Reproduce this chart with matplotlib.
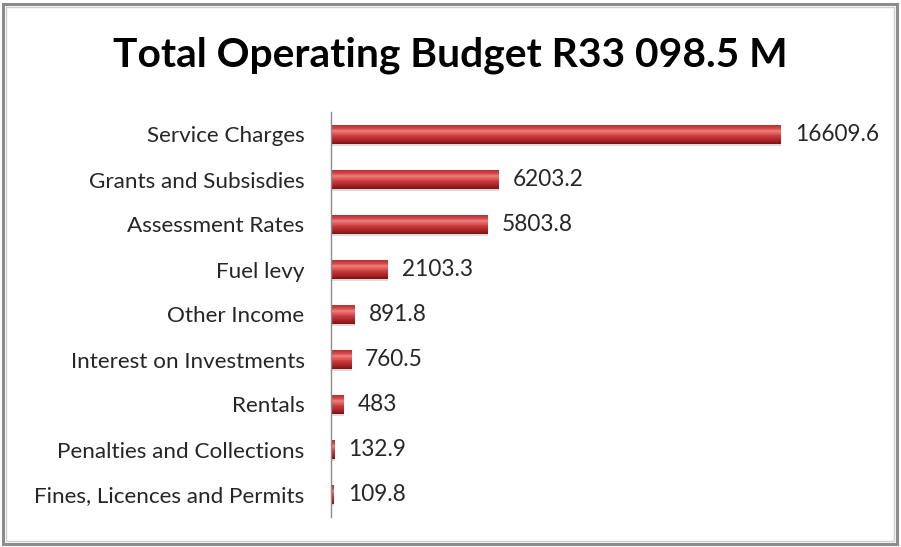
import matplotlib
matplotlib.use("Agg")
import matplotlib.pyplot as plt
import numpy as np
from matplotlib.patches import Rectangle
from matplotlib.colors import LinearSegmentedColormap

categories = ["Service Charges", "Grants and Subsisdies", "Assessment Rates", "Fuel levy",
              "Other Income", "Interest on Investments", "Rentals",
              "Penalties and Collections", "Fines, Licences and Permits"]
values = [16609.6, 6203.2, 5803.8, 2103.3, 891.8, 760.5, 483, 132.9, 109.8]
value_labels = ["16609.6", "6203.2", "5803.8", "2103.3", "891.8", "760.5", "483", "132.9", "109.8"]
title = "Total Operating Budget R33 098.5 M"

plt.rcParams['font.family'] = ['Lato', 'DejaVu Sans']

fig = plt.figure(figsize=(9.01, 5.47), dpi=100)
W, H = 901, 547
# frame
fig.patches.append(Rectangle((3/W, 3/H), 894/W, 540/H, transform=fig.transFigure,
                             fill=False, edgecolor="#8c8c8c", linewidth=2.2))
fig.patches.append(Rectangle((6/W, 6/H), 888/W, 534/H, transform=fig.transFigure,
                             fill=False, edgecolor="#d0d0d0", linewidth=1.0))

left, right = 331, 818
top, bottom = 112, 517
ax = fig.add_axes([left/W, 1 - bottom/H, (right-left)/W, (bottom-top)/H])
y = np.arange(len(categories))
xmax = 16609.6 * (right-left) / 450.0
ax.set_xlim(0, xmax)
ax.set_ylim(len(categories) - 0.5, -0.5)

h = 0.40
# shadow
ax.barh(y + 0.06, values, height=h, left=0, color="#bbbbbb", alpha=0.5, zorder=1)
# gradient layers
cols = [(0.0, "#7f1414"), (0.15, "#a52226"), (0.35, "#c8383a"), (0.55, "#e05a5a"),
        (0.68, "#ec8282"), (0.80, "#d44a4a"), (0.92, "#c23436"), (1.0, "#b02c2e")]
n = 20
cmap = LinearSegmentedColormap.from_list("g", cols)
for i in range(n):
    frac = i / n
    yc = y + h/2 - (frac + 0.5/n) * h
    ax.barh(yc, values, height=h/n * 1.05, left=0, color=cmap(frac), linewidth=0, zorder=2)

for yi, v, lab in zip(y, values, value_labels):
    ax.text(v + xmax*0.028, yi, lab, va="center", ha="left", fontsize=16.3, color="#262626")

ax.set_yticks(y)
ax.set_yticklabels(categories, fontsize=16.2, color="#262626")
ax.tick_params(axis="y", length=0, pad=19)
ax.set_xticks([])
for s in ["top", "right", "bottom"]:
    ax.spines[s].set_visible(False)
ax.spines["left"].set_color("#8c8c8c")
ax.spines["left"].set_linewidth(1.0)
ax.patch.set_alpha(0)

fig.text(450/W, 1 - 55/H, title, ha="center", va="center", fontsize=29.3, fontweight="bold", color="black")

fig.savefig("out.png", dpi=100)
